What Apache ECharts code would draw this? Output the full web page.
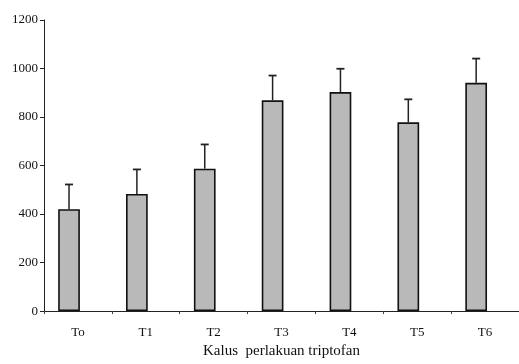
<!DOCTYPE html>
<html>
<head>
<meta charset="utf-8">
<script src="https://cdn.jsdelivr.net/npm/echarts@6/dist/echarts.min.js"></script>
<style>html,body{margin:0;padding:0;background:#fff}#c{width:519px;height:364px}</style>
</head>
<body>
<div id="c"></div>
<script>
var categories = ['To', 'T1', 'T2', 'T3', 'T4', 'T5', 'T6'];
var means = [420, 483, 587, 869, 903, 778, 941];
var errors = [102, 101, 100, 102, 96, 95, 100];
var yTicks = [0, 200, 400, 600, 800, 1000, 1200];
var xTitle = 'Kalus  perlakuan triptofan';

var BAR_W = 0.32, GAP = -0.18;
var shiftFrac = BAR_W * (1 + GAP) / 2;

var chart = echarts.init(document.getElementById('c'));
var serif = '"Liberation Serif", "DejaVu Serif", serif';
chart.setOption({
  animation: false,
  grid: { left: 44, top: 20, width: 480, height: 295 },
  xAxis: {
    type: 'category',
    data: categories,
    name: xTitle,
    nameLocation: 'middle',
    nameGap: 31,
    nameTextStyle: { fontFamily: serif, fontSize: 15, color: '#111' },
    axisLine: { lineStyle: { color: '#222', width: 1 } },
    axisTick: { show: true, length: 3, lineStyle: { color: '#444' } },
    axisLabel: { fontFamily: serif, fontSize: 13, color: '#111', margin: 15 }
  },
  yAxis: {
    type: 'value',
    min: yTicks[0],
    max: yTicks[yTicks.length - 1],
    interval: yTicks[1] - yTicks[0],
    axisLine: { show: true, lineStyle: { color: '#222', width: 1 } },
    axisTick: { show: true, length: 4, lineStyle: { color: '#222' } },
    splitLine: { show: false },
    axisLabel: { fontFamily: serif, fontSize: 13, color: '#111', margin: 6, formatter: function (v) { return String(v); } }
  },
  series: [
    {
      type: 'bar',
      data: means,
      barWidth: (BAR_W * 100) + '%',
      barGap: (GAP * 100) + '%',
      itemStyle: { color: '#b9b9b9', borderColor: '#111', borderWidth: 1.6 },
      z: 2
    },
    {
      type: 'bar',
      data: means.map(function () { return null; }),
      barWidth: (BAR_W * 100) + '%'
    },
    {
      type: 'custom',
      data: means.map(function (m, i) { return [i, m, m + errors[i]]; }),
      renderItem: function (params, api) {
        var i = api.value(0);
        var band = api.size([1, 0])[0];
        var p0 = api.coord([i, api.value(1)]);
        var p1 = api.coord([i, api.value(2)]);
        var x = p0[0] - band * shiftFrac;
        var cap = 4;
        return {
          type: 'group',
          children: [
            { type: 'line', shape: { x1: x, y1: p0[1], x2: x, y2: p1[1] }, style: { stroke: '#222', lineWidth: 1.5 } },
            { type: 'line', shape: { x1: x - cap, y1: p1[1], x2: x + cap, y2: p1[1] }, style: { stroke: '#222', lineWidth: 1.8 } }
          ]
        };
      },
      z: 3
    }
  ]
});
</script>
</body>
</html>
